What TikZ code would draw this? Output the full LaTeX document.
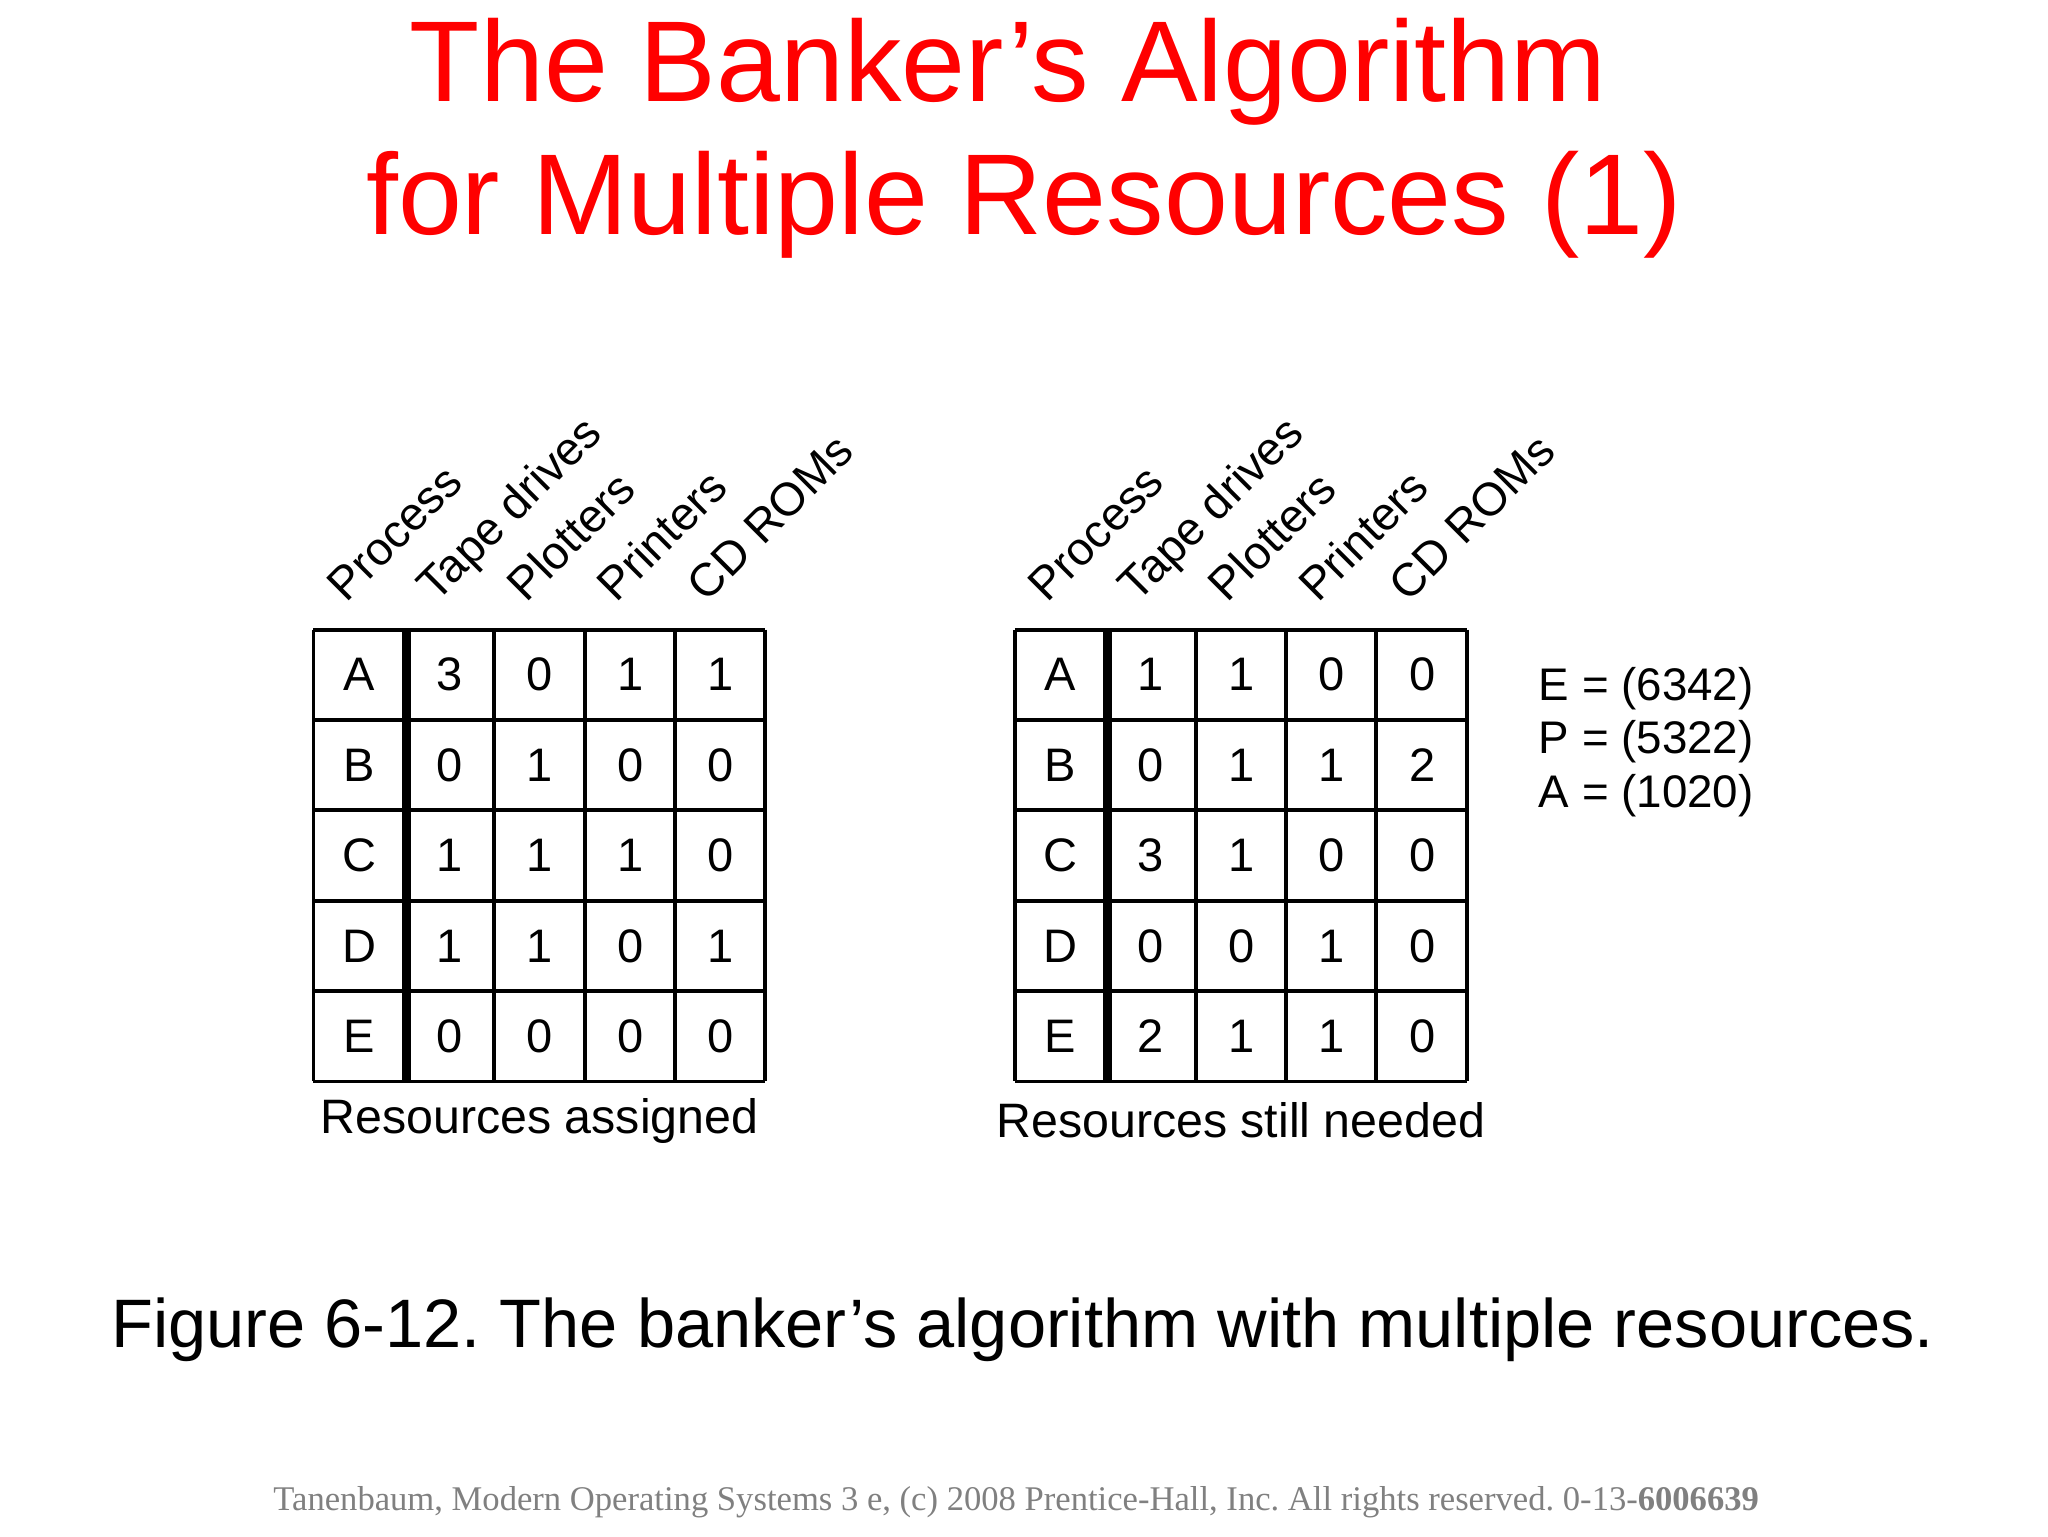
\documentclass[tikz,border=0pt]{standalone}
\usepackage{fontspec}
\setmainfont{Liberation Sans}
\newfontfamily\timesf{Liberation Serif}
\frenchspacing
\begin{document}
\begin{tikzpicture}[x=1pt,y=-1pt,
  cell/.style={font=\fontsize{36}{40}\selectfont,inner sep=0pt},
  hdr/.style={font=\fontsize{35.5}{38}\selectfont,rotate=45,anchor=base west,inner sep=0pt},
  grid/.style={line width=3pt},
  sep/.style={line width=7pt}]
\useasboundingbox (0,0) rectangle (1568,1176);
\node[text=red,font=\fontsize{88}{100}\selectfont] (t1) at (772,55) {The Banker’s Algorithm};
\node[text=red,font=\fontsize{88}{100}\selectfont] (t2) at (784,157) {for Multiple Resources (1)};
% tables
\foreach \x/\name/\cap [count=\t] in {240/L/Resources assigned,777/R/Resources still needed}{
  \foreach \h [count=\i] in {Process,Tape drives,Plotters,Printers,CD ROMs}{
    \node[hdr] (h\name\i) at ({\x+35+69*(\i-1)-10},462) {\h};
  }
  \foreach \r in {0,...,5}{\draw[grid] (\x,482+69.2*\r) -- (\x+346,482+69.2*\r);}
  \foreach \c in {0,2,3,4,5}{\draw[grid] (\x+69.2*\c,482) -- (\x+69.2*\c,828);}
  \draw[sep] (\x+71,482) -- (\x+71,828);
  \node[font=\fontsize{37}{40}\selectfont] (cap\name) at (\x+173,858) {\cap};
}
\foreach \row [count=\j] in {{A,3,0,1,1},{B,0,1,0,0},{C,1,1,1,0},{D,1,1,0,1},{E,0,0,0,0}}{
  \foreach \v [count=\i] in \row {\node[cell] (l\j\i) at ({240+35+69.2*(\i-1)},{482+34.6+69.2*(\j-1)}) {\v};}
}
\foreach \row [count=\j] in {{A,1,1,0,0},{B,0,1,1,2},{C,3,1,0,0},{D,0,0,1,0},{E,2,1,1,0}}{
  \foreach \v [count=\i] in \row {\node[cell] (r\j\i) at ({777+35+69.2*(\i-1)},{482+34.6+69.2*(\j-1)}) {\v};}
}
\node[anchor=west,font=\fontsize{35}{40}\selectfont,inner sep=0pt] (vE) at (1178,527) {E = (6342)};
\node[anchor=west,font=\fontsize{35}{40}\selectfont,inner sep=0pt] (vP) at (1178,568) {P = (5322)};
\node[anchor=west,font=\fontsize{35}{40}\selectfont,inner sep=0pt] (vA) at (1178,609) {A = (1020)};
\node[font=\fontsize{52.5}{58}\selectfont] (fig) at (783,1018) {Figure 6-12. The banker’s algorithm with multiple resources.};
\node[text=gray,font=\timesf\fontsize{26.5}{30}\selectfont] (foot) at (778,1150) {Tanenbaum, Modern Operating Systems 3 e, (c) 2008 Prentice-Hall, Inc. All rights reserved. 0-13-\textbf{6006639}};
\end{tikzpicture}
\end{document}
